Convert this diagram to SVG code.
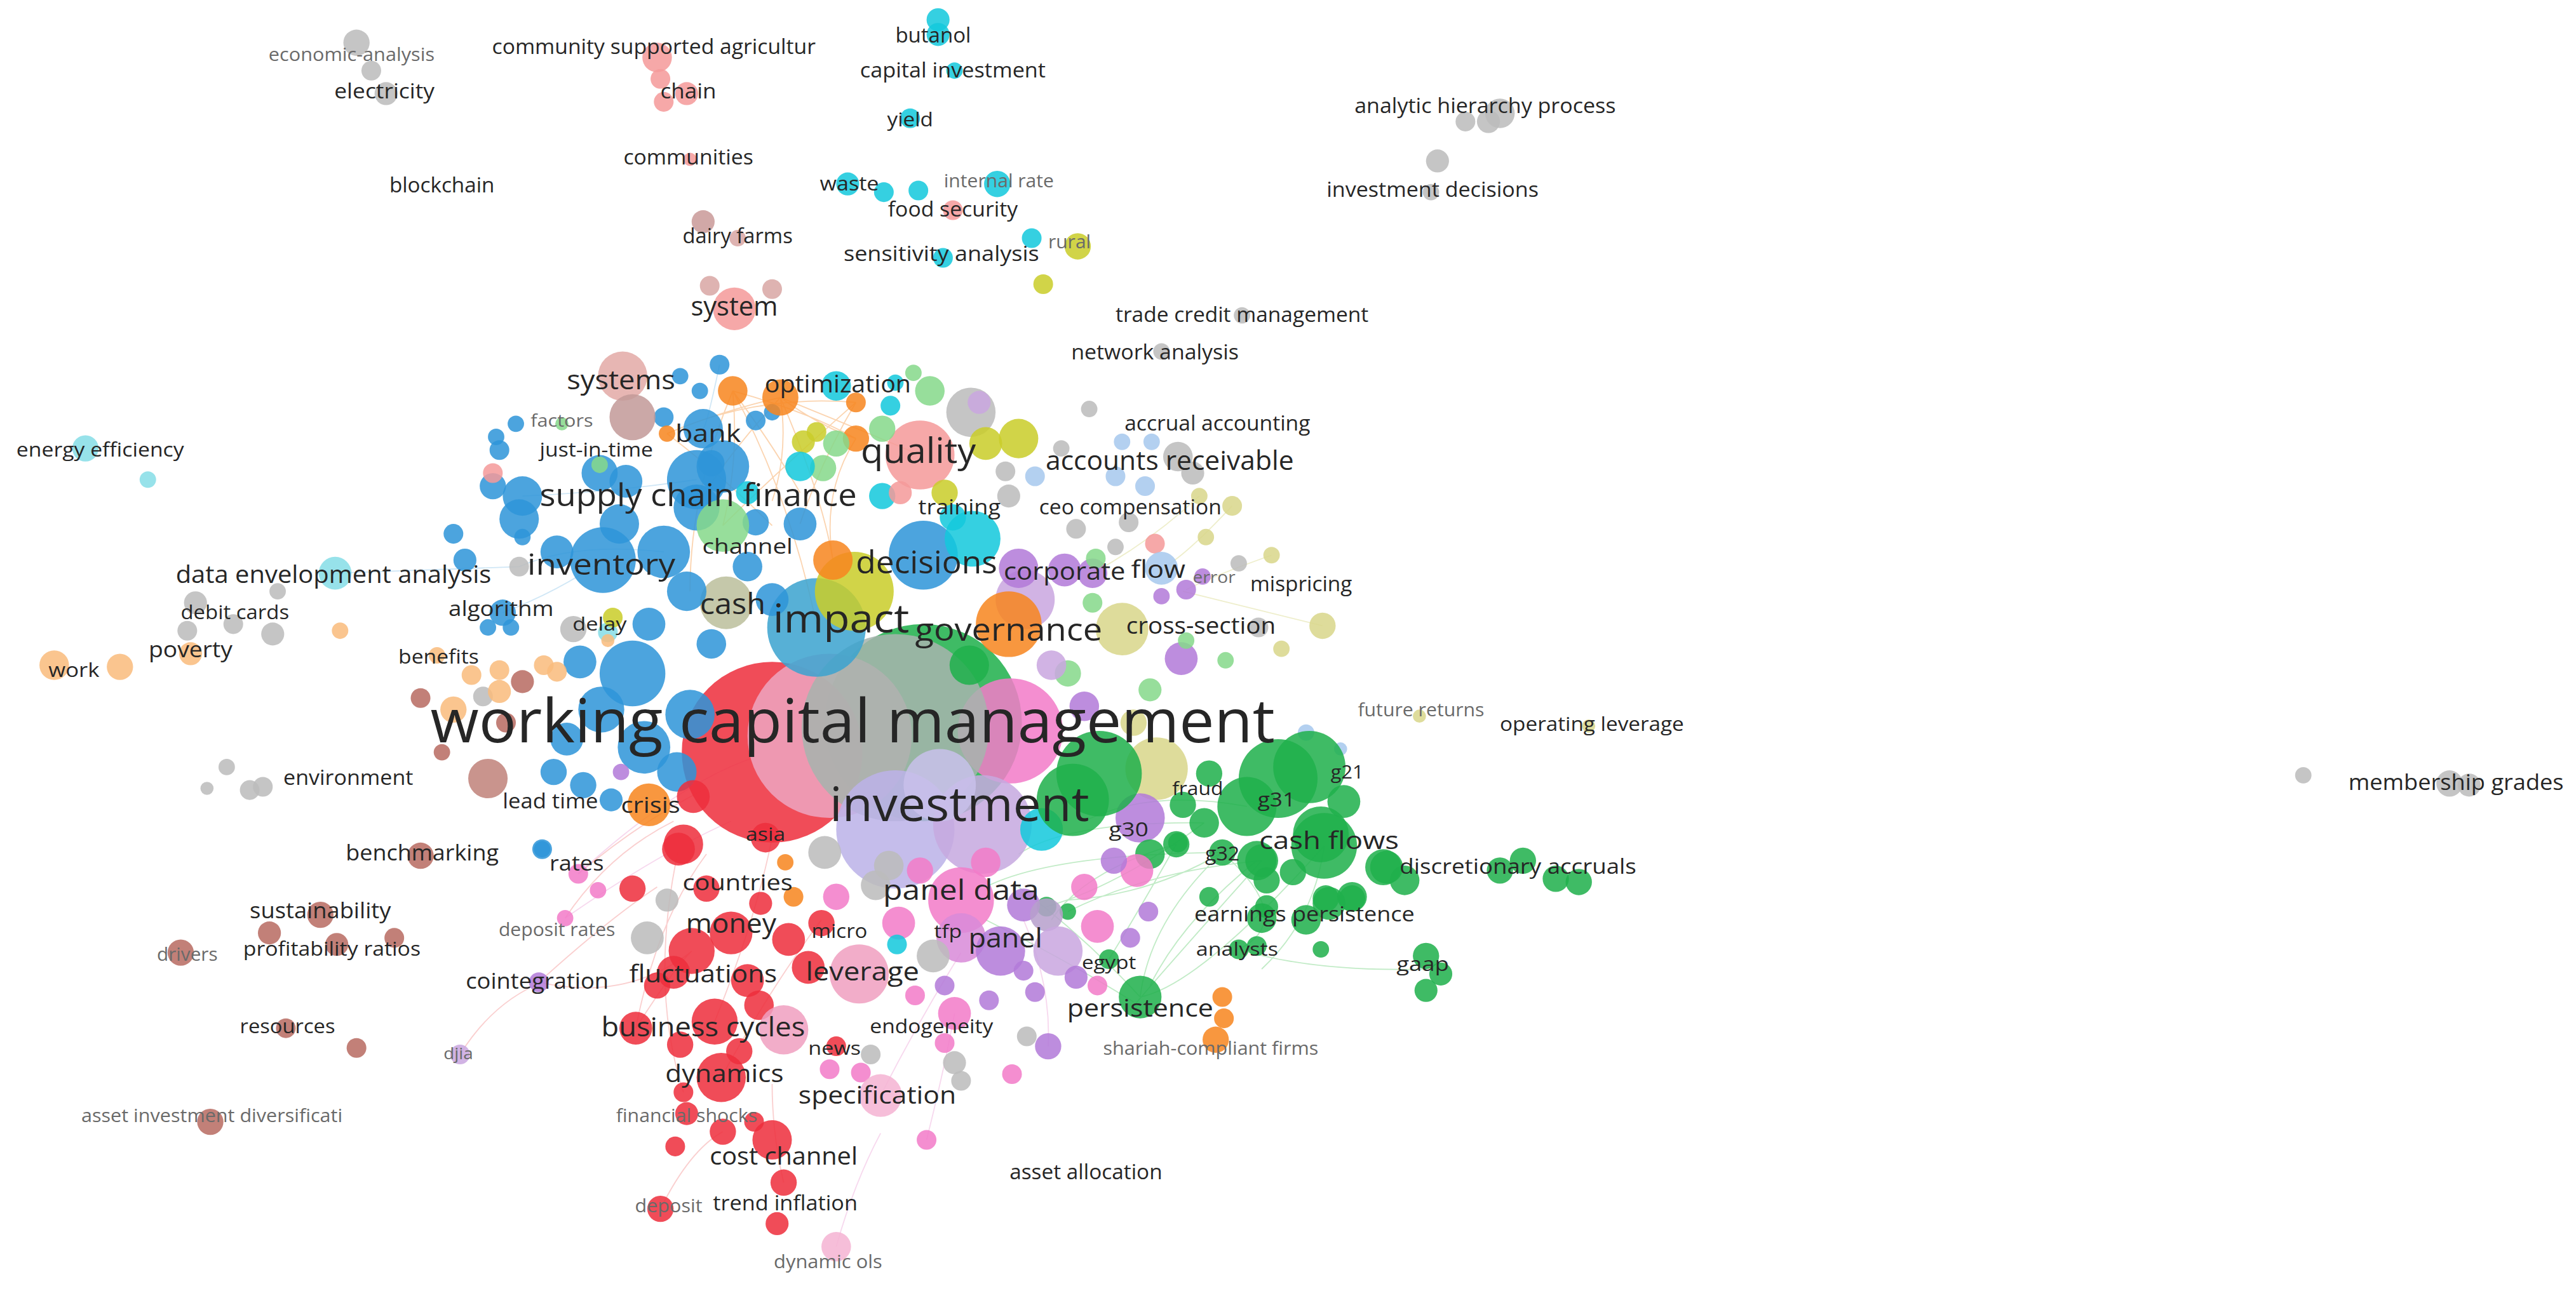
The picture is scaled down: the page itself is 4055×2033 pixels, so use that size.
<svg xmlns="http://www.w3.org/2000/svg" width="4055" height="2033" viewBox="0 0 4055 2033">
<style>
circle{fill-opacity:.86}
.r{fill:#ee2f3c}.g{fill:#1fb04c}.b{fill:#2f95d8}.y{fill:#c9cd2a}.p{fill:#b27ad8}.c{fill:#14c8dc}.o{fill:#f7861f}.br{fill:#b86b62}.pk{fill:#f27cc8}.sl{fill:#f59a9a}.lg{fill:#86d98a}.gy{fill:#bcbcbc}.lb{fill:#a7c8ee}.kh{fill:#d9d68b}.lo{fill:#f9bb7d}.lp{fill:#c9a6e0}.lc{fill:#86dde6}.rs{fill:#eda5c0}.lpk{fill:#f5b3d3}
text{font-family:"Open Sans","Noto Sans","DejaVu Sans",sans-serif;fill:#262626;text-anchor:middle}
.lt{fill:#6a6a6a}
.e{fill:none;stroke-width:.7;stroke-opacity:.55}
.eo{stroke:#f8b070}.eg{stroke:#8edb98}.er{stroke:#f6a8a8}.eb{stroke:#a9d3ee}.ep{stroke:#f0b8e0}.ey{stroke:#e0e0a0}
</style>
<rect width="4055" height="2033" fill="#ffffff"/>
<g transform="scale(2.5861,2.5865)">
<g id="connectors">
<path class="e eo" d="M446,238 Q470,270 487,300 M475,242 Q480,275 470,305 M446,238 Q490,250 521,267 M406,264 Q440,250 475,242 M475,242 Q500,260 521,267 M446,238 Q450,280 440,320 M521,245 Q500,280 487,319 M406,264 Q440,290 470,320 M475,242 Q520,260 560,277 M446,238 Q420,300 420,360 M521,267 Q500,300 507,341 M475,242 Q500,300 507,341 M446,238 Q480,300 497,380 M521,245 Q470,290 440,320 M406,264 Q460,240 521,245 M475,242 Q440,280 424,309"/>
<path class="e eb" d="M204,349 L316,345 M306,373 Q340,360 367,341 M316,345 Q350,330 404,336 M318,302 Q370,300 424,292 M438,222 Q430,260 428,261"/>
<path class="e eg" d="M744,519 Q700,560 694,607 M754,578 Q800,592 868,590 M733,501 Q680,540 637,552 M716,514 Q690,560 675,584 M744,519 Q640,520 600,540 M768,524 Q700,530 650,555 M806,515 Q730,600 694,607 M733,501 Q650,500 620,520 M765,524 Q720,560 700,600 M620,540 Q660,570 694,607 M600,560 Q650,585 690,610 M744,519 Q700,545 650,548 M716,514 Q660,530 640,560 M806,515 Q800,560 768,590 M759,491 Q700,480 660,500 M744,519 Q790,560 754,578 M768,524 Q700,600 688,615"/>
<path class="e er" d="M352,532 Q390,500 430,480 M344,559 Q370,520 410,500 M328,598 Q370,560 400,540 M328,598 Q380,610 420,580 M280,642 Q300,610 330,598 M387,626 Q410,590 421,579 M402,736 Q420,700 440,689 M477,720 Q470,690 470,660 M416,665 Q395,600 413,517 M387,626 Q400,560 430,520 M435,622 Q460,560 470,510 M439,656 Q470,600 500,560"/>
<path class="e ep" d="M509,759 Q520,720 536,690 M536,667 Q560,620 585,580 M564,694 Q575,650 581,617 M352,532 Q420,470 470,458 M344,559 Q400,520 445,500 M638,637 Q640,600 623,560"/>
<path class="e ey" d="M730,302 Q700,330 665,349 M750,308 Q720,340 707,346 M805,381 Q760,370 720,360 M774,338 Q740,350 722,359"/>
</g>
<g id="bubbles">
<g id="cluster-core">
<circle class="g" cx="562" cy="440" r="60"/>
<circle class="pk" cx="615" cy="445" r="32"/>
<circle class="r" cx="470" cy="458" r="55"/>
<circle class="rs" cx="505" cy="448" r="50"/>
<circle cx="545" cy="443" r="57" fill="#a7b3ae"/>
<circle cx="545" cy="505" r="36" fill="#bcb2e8"/>
<circle cx="598" cy="502" r="30" fill="#c6a9e0"/>
<circle cx="572" cy="478" r="22" fill="#c8c0ea"/>
<circle cx="497" cy="382" r="30" fill="#3ba3cf"/>
<circle class="y" cx="520" cy="360" r="24"/>
<circle class="o" cx="507" cy="341" r="12"/>
<circle class="b" cx="562" cy="338" r="21"/>
<circle class="c" cx="592" cy="328" r="17"/>
<circle cx="442" cy="367" r="16" fill="#bcbf9c"/>
<circle class="b" cx="418" cy="360" r="12"/>
<circle class="lp" cx="624" cy="365" r="18"/>
<circle class="o" cx="614" cy="380" r="20"/>
<circle class="p" cx="620" cy="346" r="12"/>
<circle class="p" cx="648" cy="347" r="10"/>
<circle class="p" cx="665" cy="349" r="9"/>
<circle class="kh" cx="683" cy="383" r="16"/>
<circle class="p" cx="719" cy="401" r="10"/>
<circle class="kh" cx="704" cy="468" r="19"/>
<circle class="p" cx="694" cy="498" r="15"/>
<circle class="c" cx="634" cy="505" r="13"/>
<circle class="g" cx="590" cy="405" r="12"/>
<circle class="lg" cx="650" cy="410" r="8"/>
<circle class="p" cx="660" cy="430" r="9"/>
<circle class="lp" cx="640" cy="405" r="9"/>
</g>
<g id="cluster-quality">
<circle class="sl" cx="560" cy="277" r="21"/>
<circle class="gy" cx="591" cy="251" r="15"/>
<circle class="y" cx="600" cy="270" r="10"/>
<circle class="y" cx="620" cy="267" r="12"/>
<circle class="lg" cx="566" cy="238" r="9"/>
<circle class="lg" cx="556" cy="227" r="5"/>
<circle class="lp" cx="596" cy="245" r="7"/>
<circle class="c" cx="542" cy="247" r="6"/>
<circle class="c" cx="537" cy="302" r="8"/>
<circle class="o" cx="521" cy="267" r="8"/>
<circle class="o" cx="521" cy="245" r="6"/>
<circle class="lg" cx="537" cy="261" r="8"/>
<circle class="lg" cx="509" cy="270" r="8"/>
<circle class="lg" cx="501" cy="285" r="8"/>
<circle class="y" cx="489" cy="269" r="7"/>
<circle class="y" cx="497" cy="263" r="6"/>
<circle class="c" cx="509" cy="235" r="9"/>
<circle class="c" cx="487" cy="284" r="9"/>
<circle class="c" cx="545" cy="233" r="5"/>
<circle class="sl" cx="548" cy="300" r="7"/>
<circle class="y" cx="575" cy="300" r="8"/>
<circle class="c" cx="580" cy="315" r="8"/>
<circle class="gy" cx="612" cy="287" r="6"/>
<circle class="gy" cx="614" cy="302" r="7"/>
</g>
<g id="cluster-blue">
<circle class="b" cx="424" cy="292" r="18"/>
<circle class="b" cx="440" cy="284" r="16"/>
<circle class="b" cx="424" cy="309" r="14"/>
<circle class="b" cx="377" cy="319" r="12"/>
<circle class="b" cx="367" cy="341" r="20"/>
<circle class="b" cx="404" cy="336" r="16"/>
<circle class="b" cx="339" cy="336" r="10"/>
<circle class="b" cx="318" cy="302" r="12"/>
<circle class="b" cx="316" cy="316" r="12"/>
<circle class="b" cx="365" cy="288" r="11"/>
<circle class="b" cx="381" cy="293" r="10"/>
<circle class="b" cx="428" cy="261" r="12"/>
<circle class="b" cx="438" cy="222" r="6"/>
<circle class="b" cx="414" cy="229" r="5"/>
<circle class="b" cx="426" cy="238" r="5"/>
<circle class="b" cx="404" cy="254" r="6"/>
<circle class="b" cx="314" cy="258" r="5"/>
<circle class="b" cx="302" cy="266" r="5"/>
<circle class="b" cx="304" cy="274" r="6"/>
<circle class="b" cx="460" cy="256" r="6"/>
<circle class="b" cx="470" cy="251" r="5"/>
<circle class="b" cx="487" cy="319" r="10"/>
<circle class="b" cx="460" cy="318" r="8"/>
<circle class="lg" cx="440" cy="320" r="16"/>
<circle class="b" cx="306" cy="373" r="8"/>
<circle class="b" cx="297" cy="382" r="5"/>
<circle class="b" cx="311" cy="382" r="5"/>
<circle class="b" cx="276" cy="325" r="6"/>
<circle class="b" cx="318" cy="327" r="5"/>
<circle class="b" cx="283" cy="341" r="7"/>
<circle class="b" cx="300" cy="296" r="8"/>
<circle class="b" cx="433" cy="282" r="8"/>
<circle class="b" cx="385" cy="410" r="20"/>
<circle class="b" cx="366" cy="432" r="14"/>
<circle class="b" cx="392" cy="455" r="16"/>
<circle class="b" cx="345" cy="450" r="10"/>
<circle class="b" cx="337" cy="470" r="8"/>
<circle class="b" cx="355" cy="478" r="8"/>
<circle class="b" cx="372" cy="487" r="7"/>
<circle class="b" cx="330" cy="517" r="5"/>
<circle class="b" cx="412" cy="470" r="12"/>
<circle class="b" cx="420" cy="435" r="15"/>
<circle class="b" cx="353" cy="403" r="10"/>
<circle class="b" cx="395" cy="380" r="10"/>
<circle class="b" cx="455" cy="345" r="9"/>
<circle class="b" cx="470" cy="365" r="10"/>
<circle class="b" cx="433" cy="392" r="9"/>
<circle class="lc" cx="370" cy="385" r="6"/>
<circle class="c" cx="455" cy="300" r="7"/>
<circle class="lg" cx="365" cy="283" r="5"/>
<circle class="lg" cx="342" cy="258" r="4"/>
<circle class="sl" cx="300" cy="288" r="6"/>
<circle class="gy" cx="316" cy="345" r="6"/>
<circle class="gy" cx="349" cy="383" r="8"/>
<circle class="y" cx="373" cy="376" r="6"/>
<circle class="lo" cx="370" cy="390" r="4"/>
</g>
<g id="cluster-top">
<circle cx="379" cy="229" r="15" fill="#e3aaa6"/>
<circle cx="385" cy="254" r="14" fill="#c39a98"/>
<circle class="o" cx="446" cy="238" r="9"/>
<circle class="o" cx="475" cy="242" r="11"/>
<circle class="o" cx="406" cy="264" r="5"/>
<circle class="sl" cx="447" cy="188" r="13"/>
<circle cx="432" cy="174" r="6" fill="#d8a6a4"/>
<circle cx="470" cy="176" r="6" fill="#d8a6a4"/>
<circle cx="428" cy="135" r="7" fill="#c99a98"/>
<circle cx="449" cy="145" r="5" fill="#d8a6a4"/>
<circle class="sl" cx="400" cy="35" r="9"/>
<circle class="sl" cx="402" cy="48" r="6"/>
<circle class="sl" cx="404" cy="62" r="6"/>
<circle class="sl" cx="418" cy="57" r="7"/>
<circle class="sl" cx="420" cy="97" r="4"/>
<circle class="sl" cx="580" cy="128" r="6"/>
<circle class="gy" cx="217" cy="26" r="8"/>
<circle class="gy" cx="226" cy="43" r="6"/>
<circle class="gy" cx="235" cy="57" r="7"/>
<circle class="c" cx="571" cy="12" r="7"/>
<circle class="c" cx="571" cy="21" r="7"/>
<circle class="c" cx="581" cy="43" r="5"/>
<circle class="c" cx="554" cy="72" r="6"/>
<circle class="c" cx="516" cy="112" r="7"/>
<circle class="c" cx="538" cy="117" r="6"/>
<circle class="c" cx="559" cy="116" r="6"/>
<circle class="c" cx="607" cy="112" r="8"/>
<circle class="c" cx="574" cy="157" r="6"/>
<circle class="c" cx="628" cy="145" r="6"/>
<circle class="y" cx="656" cy="150" r="8"/>
<circle class="y" cx="635" cy="173" r="6"/>
<circle class="gy" cx="913" cy="69" r="9"/>
<circle class="gy" cx="892" cy="74" r="6"/>
<circle class="gy" cx="906" cy="74" r="7"/>
<circle class="gy" cx="875" cy="98" r="7"/>
<circle class="gy" cx="871" cy="117" r="5"/>
<circle class="gy" cx="756" cy="192" r="5"/>
<circle class="gy" cx="707" cy="214" r="5"/>
<circle class="gy" cx="663" cy="249" r="5"/>
</g>
<g id="cluster-right">
<circle class="lb" cx="683" cy="269" r="5"/>
<circle class="lb" cx="701" cy="269" r="5"/>
<circle class="gy" cx="717" cy="278" r="9"/>
<circle class="gy" cx="726" cy="288" r="7"/>
<circle class="gy" cx="646" cy="273" r="5"/>
<circle class="lb" cx="630" cy="290" r="6"/>
<circle class="lb" cx="679" cy="290" r="6"/>
<circle class="lb" cx="697" cy="296" r="6"/>
<circle class="gy" cx="655" cy="322" r="6"/>
<circle class="gy" cx="687" cy="318" r="6"/>
<circle class="gy" cx="679" cy="333" r="5"/>
<circle class="sl" cx="703" cy="331" r="6"/>
<circle class="kh" cx="734" cy="327" r="5"/>
<circle class="kh" cx="774" cy="338" r="5"/>
<circle class="kh" cx="750" cy="308" r="6"/>
<circle class="kh" cx="730" cy="302" r="5"/>
<circle class="gy" cx="754" cy="343" r="5"/>
<circle class="lb" cx="707" cy="346" r="10"/>
<circle class="p" cx="722" cy="359" r="6"/>
<circle class="p" cx="707" cy="363" r="5"/>
<circle class="p" cx="732" cy="351" r="5"/>
<circle class="lg" cx="667" cy="340" r="6"/>
<circle class="lg" cx="665" cy="367" r="6"/>
<circle class="lg" cx="746" cy="402" r="5"/>
<circle class="lg" cx="722" cy="390" r="5"/>
<circle class="kh" cx="805" cy="381" r="8"/>
<circle class="kh" cx="780" cy="395" r="5"/>
<circle class="gy" cx="766" cy="382" r="6"/>
<circle class="kh" cx="864" cy="436" r="4"/>
<circle class="kh" cx="967" cy="442" r="4"/>
<circle class="lb" cx="795" cy="446" r="5"/>
<circle class="lb" cx="816" cy="456" r="4"/>
<circle class="gy" cx="1402" cy="472" r="5"/>
<circle class="gy" cx="1491" cy="477" r="8"/>
<circle class="gy" cx="1503" cy="478" r="7"/>
<circle class="lg" cx="700" cy="420" r="7"/>
<circle class="kh" cx="690" cy="440" r="8"/>
</g>
<g id="cluster-green">
<circle class="g" cx="669" cy="471" r="26"/>
<circle class="g" cx="653" cy="487" r="22"/>
<circle class="g" cx="778" cy="474" r="24"/>
<circle class="g" cx="797" cy="467" r="22"/>
<circle class="g" cx="759" cy="491" r="18"/>
<circle class="g" cx="804" cy="508" r="17"/>
<circle class="g" cx="765" cy="524" r="12"/>
<circle class="g" cx="842" cy="528" r="11"/>
<circle class="g" cx="855" cy="536" r="9"/>
<circle class="g" cx="736" cy="471" r="8"/>
<circle class="g" cx="733" cy="501" r="9"/>
<circle class="g" cx="717" cy="513" r="6"/>
<circle class="g" cx="771" cy="536" r="8"/>
<circle class="g" cx="787" cy="531" r="8"/>
<circle class="g" cx="807" cy="547" r="8"/>
<circle class="g" cx="823" cy="547" r="8"/>
<circle class="g" cx="771" cy="552" r="7"/>
<circle class="g" cx="736" cy="546" r="6"/>
<circle class="g" cx="765" cy="576" r="6"/>
<circle class="g" cx="804" cy="578" r="5"/>
<circle class="g" cx="868" cy="582" r="8"/>
<circle class="g" cx="877" cy="593" r="7"/>
<circle class="g" cx="868" cy="603" r="7"/>
<circle class="g" cx="694" cy="607" r="13"/>
<circle class="g" cx="637" cy="552" r="6"/>
<circle class="g" cx="650" cy="555" r="5"/>
<circle class="g" cx="675" cy="584" r="6"/>
<circle class="g" cx="744" cy="519" r="8"/>
<circle class="g" cx="716" cy="514" r="8"/>
<circle class="g" cx="768" cy="559" r="9"/>
<circle class="g" cx="795" cy="560" r="9"/>
<circle class="g" cx="809" cy="550" r="10"/>
<circle class="g" cx="823" cy="546" r="9"/>
<circle class="g" cx="844" cy="528" r="10"/>
<circle class="g" cx="913" cy="530" r="8"/>
<circle class="g" cx="927" cy="524" r="8"/>
<circle class="g" cx="947" cy="535" r="8"/>
<circle class="g" cx="961" cy="537" r="8"/>
<circle class="g" cx="806" cy="515" r="20"/>
<circle class="g" cx="768" cy="524" r="10"/>
<circle class="g" cx="754" cy="578" r="6"/>
<circle class="g" cx="818" cy="488" r="10"/>
<circle class="g" cx="720" cy="490" r="8"/>
<circle class="g" cx="700" cy="520" r="9"/>
</g>
<g id="cluster-lower">
<circle class="pk" cx="585" cy="548" r="20"/>
<circle class="pk" cx="547" cy="562" r="10"/>
<circle class="pk" cx="509" cy="546" r="8"/>
<circle class="gy" cx="533" cy="539" r="9"/>
<circle class="p" cx="623" cy="551" r="10"/>
<circle cx="637" cy="557" r="10" fill="#b7a0cc"/>
<circle cx="585" cy="571" r="15" fill="#d98ad8"/>
<circle class="p" cx="609" cy="579" r="15"/>
<circle class="lp" cx="644" cy="579" r="15"/>
<circle class="gy" cx="568" cy="582" r="10"/>
<circle class="pk" cx="668" cy="564" r="10"/>
<circle class="pk" cx="692" cy="530" r="10"/>
<circle class="p" cx="678" cy="524" r="8"/>
<circle class="p" cx="699" cy="555" r="6"/>
<circle class="p" cx="688" cy="571" r="6"/>
<circle class="pk" cx="668" cy="600" r="6"/>
<circle cx="523" cy="593" r="18" fill="#f0a0c0"/>
<circle class="r" cx="492" cy="589" r="10"/>
<circle class="pk" cx="557" cy="606" r="6"/>
<circle class="p" cx="575" cy="600" r="6"/>
<circle class="p" cx="602" cy="609" r="6"/>
<circle class="p" cx="623" cy="591" r="6"/>
<circle class="p" cx="630" cy="604" r="6"/>
<circle class="gy" cx="625" cy="631" r="6"/>
<circle class="p" cx="638" cy="637" r="8"/>
<circle class="pk" cx="581" cy="617" r="10"/>
<circle class="pk" cx="575" cy="635" r="6"/>
<circle class="r" cx="509" cy="637" r="6"/>
<circle class="gy" cx="530" cy="642" r="6"/>
<circle class="pk" cx="505" cy="651" r="6"/>
<circle class="pk" cx="524" cy="653" r="6"/>
<circle class="gy" cx="581" cy="647" r="7"/>
<circle class="gy" cx="585" cy="658" r="6"/>
<circle class="lpk" cx="536" cy="667" r="13"/>
<circle class="pk" cx="616" cy="654" r="6"/>
<circle class="pk" cx="564" cy="694" r="6"/>
<circle class="o" cx="744" cy="607" r="6"/>
<circle class="o" cx="745" cy="620" r="6"/>
<circle class="o" cx="740" cy="633" r="8"/>
<circle class="gy" cx="502" cy="519" r="10"/>
<circle class="gy" cx="541" cy="527" r="9"/>
<circle class="pk" cx="560" cy="530" r="8"/>
<circle class="pk" cx="660" cy="540" r="8"/>
<circle class="c" cx="546" cy="575" r="6"/>
<circle class="p" cx="655" cy="595" r="7"/>
<circle class="pk" cx="600" cy="525" r="9"/>
</g>
<g id="cluster-red">
<circle class="o" cx="395" cy="490" r="13"/>
<circle class="r" cx="416" cy="514" r="12"/>
<circle class="r" cx="422" cy="485" r="10"/>
<circle class="r" cx="413" cy="517" r="10"/>
<circle class="r" cx="385" cy="541" r="8"/>
<circle class="r" cx="430" cy="541" r="8"/>
<circle class="r" cx="445" cy="568" r="13"/>
<circle class="r" cx="421" cy="579" r="14"/>
<circle class="r" cx="463" cy="550" r="7"/>
<circle class="r" cx="387" cy="626" r="10"/>
<circle class="r" cx="435" cy="622" r="14"/>
<circle class="r" cx="414" cy="636" r="8"/>
<circle class="r" cx="439" cy="656" r="15"/>
<circle class="r" cx="416" cy="665" r="6"/>
<circle class="r" cx="418" cy="678" r="7"/>
<circle class="r" cx="440" cy="689" r="8"/>
<circle class="r" cx="459" cy="683" r="6"/>
<circle class="r" cx="470" cy="694" r="12"/>
<circle class="r" cx="411" cy="698" r="6"/>
<circle class="r" cx="477" cy="720" r="8"/>
<circle class="r" cx="402" cy="736" r="8"/>
<circle class="r" cx="473" cy="745" r="7"/>
<circle class="r" cx="400" cy="600" r="8"/>
<circle class="r" cx="410" cy="592" r="10"/>
<circle class="r" cx="455" cy="597" r="10"/>
<circle class="r" cx="462" cy="612" r="9"/>
<circle class="r" cx="450" cy="640" r="8"/>
<circle class="r" cx="500" cy="562" r="8"/>
<circle class="r" cx="480" cy="572" r="10"/>
<circle class="r" cx="466" cy="510" r="9"/>
<circle cx="477" cy="627" r="15" fill="#f0a0c0"/>
<circle class="gy" cx="406" cy="548" r="7"/>
<circle class="gy" cx="394" cy="571" r="10"/>
<circle class="o" cx="483" cy="546" r="6"/>
<circle class="o" cx="478" cy="525" r="5"/>
<circle class="lpk" cx="509" cy="759" r="9"/>
<circle class="p" cx="378" cy="470" r="5"/>
</g>
<g id="cluster-left">
<circle class="br" cx="256" cy="521" r="8"/>
<circle class="b" cx="330" cy="517" r="6"/>
<circle class="pk" cx="352" cy="532" r="6" fill-opacity=".5"/>
<circle class="pk" cx="364" cy="542" r="5" fill-opacity=".5"/>
<circle class="pk" cx="344" cy="559" r="5" fill-opacity=".5"/>
<circle class="br" cx="195" cy="557" r="8"/>
<circle class="br" cx="164" cy="568" r="7"/>
<circle class="br" cx="205" cy="575" r="7"/>
<circle class="br" cx="240" cy="571" r="6"/>
<circle class="br" cx="110" cy="580" r="8"/>
<circle class="br" cx="174" cy="626" r="6"/>
<circle class="br" cx="217" cy="638" r="6"/>
<circle class="lp" cx="280" cy="642" r="6"/>
<circle class="p" cx="328" cy="598" r="6"/>
<circle class="br" cx="128" cy="683" r="8"/>
<circle class="br" cx="318" cy="415" r="7"/>
<circle class="br" cx="256" cy="425" r="6"/>
<circle class="br" cx="269" cy="458" r="5"/>
<circle cx="297" cy="474" r="12" fill="#c0827a"/>
<circle class="br" cx="308" cy="440" r="6"/>
<circle class="gy" cx="294" cy="424" r="6"/>
<circle class="gy" cx="138" cy="467" r="5"/>
<circle class="gy" cx="152" cy="481" r="6"/>
<circle class="gy" cx="160" cy="479" r="6"/>
<circle class="gy" cx="126" cy="480" r="4"/>
<circle class="lo" cx="207" cy="384" r="5"/>
<circle class="lo" cx="116" cy="398" r="7"/>
<circle class="lo" cx="33" cy="405" r="9"/>
<circle class="lo" cx="73" cy="406" r="8"/>
<circle class="lo" cx="266" cy="399" r="5"/>
<circle class="lo" cx="287" cy="411" r="6"/>
<circle class="lo" cx="304" cy="408" r="6"/>
<circle class="lo" cx="304" cy="421" r="7"/>
<circle class="lo" cx="276" cy="432" r="8"/>
<circle class="lo" cx="331" cy="405" r="6"/>
<circle class="lo" cx="339" cy="409" r="6"/>
<circle class="gy" cx="169" cy="360" r="5"/>
<circle class="gy" cx="119" cy="367" r="7"/>
<circle class="gy" cx="114" cy="384" r="6"/>
<circle class="gy" cx="142" cy="380" r="6"/>
<circle class="gy" cx="166" cy="386" r="7"/>
<circle class="lc" cx="204" cy="349" r="10"/>
<circle class="lc" cx="52" cy="273" r="8"/>
<circle class="lc" cx="90" cy="292" r="5"/>
</g>
</g>
<g id="labels">
<g id="node-economic-analysis"><text class="lt" x="214" y="37" font-size="11" textLength="101" lengthAdjust="spacingAndGlyphs">economic-analysis</text></g>
<g id="node-electricity"><text x="234" y="60" font-size="13" textLength="61" lengthAdjust="spacingAndGlyphs">electricity</text></g>
<g id="node-community-supported-agricultur"><text x="398" y="33" font-size="12.5" textLength="197" lengthAdjust="spacingAndGlyphs">community supported agricultur</text></g>
<g id="node-chain"><text x="419" y="60" font-size="13" textLength="34" lengthAdjust="spacingAndGlyphs">chain</text></g>
<g id="node-communities"><text x="419" y="100" font-size="12.5" textLength="79" lengthAdjust="spacingAndGlyphs">communities</text></g>
<g id="node-blockchain"><text x="269" y="117" font-size="13" textLength="64" lengthAdjust="spacingAndGlyphs">blockchain</text></g>
<g id="node-dairy-farms"><text x="449" y="148" font-size="12.5" textLength="67" lengthAdjust="spacingAndGlyphs">dairy farms</text></g>
<g id="node-system"><text x="447" y="192" font-size="16" textLength="53" lengthAdjust="spacingAndGlyphs">system</text></g>
<g id="node-butanol"><text x="568" y="26" font-size="12.5" textLength="46" lengthAdjust="spacingAndGlyphs">butanol</text></g>
<g id="node-capital-investment"><text x="580" y="47" font-size="12.5" textLength="113" lengthAdjust="spacingAndGlyphs">capital investment</text></g>
<g id="node-yield"><text x="554" y="77" font-size="12" textLength="28" lengthAdjust="spacingAndGlyphs">yield</text></g>
<g id="node-waste"><text x="517" y="116" font-size="12" textLength="36" lengthAdjust="spacingAndGlyphs">waste</text></g>
<g id="node-internal-rate"><text class="lt" x="608" y="114" font-size="11" textLength="67" lengthAdjust="spacingAndGlyphs">internal rate</text></g>
<g id="node-food-security"><text x="580" y="132" font-size="12.5" textLength="79" lengthAdjust="spacingAndGlyphs">food security</text></g>
<g id="node-sensitivity-analysis"><text x="573" y="159" font-size="12.5" textLength="119" lengthAdjust="spacingAndGlyphs">sensitivity analysis</text></g>
<g id="node-rural"><text class="lt" x="651" y="151" font-size="11" textLength="26" lengthAdjust="spacingAndGlyphs">rural</text></g>
<g id="node-analytic-hierarchy-process"><text x="904" y="69" font-size="12.5" textLength="159" lengthAdjust="spacingAndGlyphs">analytic hierarchy process</text></g>
<g id="node-investment-decisions"><text x="872" y="120" font-size="12.5" textLength="129" lengthAdjust="spacingAndGlyphs">investment decisions</text></g>
<g id="node-trade-credit-management"><text x="756" y="196" font-size="12.5" textLength="154" lengthAdjust="spacingAndGlyphs">trade credit management</text></g>
<g id="node-network-analysis"><text x="703" y="219" font-size="12.5" textLength="102" lengthAdjust="spacingAndGlyphs">network analysis</text></g>
<g id="node-accrual-accounting"><text x="741" y="262" font-size="12.5" textLength="113" lengthAdjust="spacingAndGlyphs">accrual accounting</text></g>
<g id="node-accounts-receivable"><text x="712" y="286" font-size="16" textLength="151" lengthAdjust="spacingAndGlyphs">accounts receivable</text></g>
<g id="node-ceo-compensation"><text x="688" y="313" font-size="12.5" textLength="111" lengthAdjust="spacingAndGlyphs">ceo compensation</text></g>
<g id="node-corporate"><text x="648" y="353" font-size="15" textLength="74" lengthAdjust="spacingAndGlyphs">corporate</text></g>
<g id="node-flow"><text x="705" y="352" font-size="15" textLength="33" lengthAdjust="spacingAndGlyphs">flow</text></g>
<g id="node-error"><text class="lt" x="739" y="355" font-size="10" textLength="26" lengthAdjust="spacingAndGlyphs">error</text></g>
<g id="node-mispricing"><text x="792" y="360" font-size="12.5" textLength="62" lengthAdjust="spacingAndGlyphs">mispricing</text></g>
<g id="node-cross-section"><text x="731" y="386" font-size="14" textLength="91" lengthAdjust="spacingAndGlyphs">cross-section</text></g>
<g id="node-future-returns"><text class="lt" x="865" y="436" font-size="11" textLength="77" lengthAdjust="spacingAndGlyphs">future returns</text></g>
<g id="node-operating-leverage"><text x="969" y="445" font-size="12" textLength="112" lengthAdjust="spacingAndGlyphs">operating leverage</text></g>
<g id="node-membership-grades"><text x="1495" y="481" font-size="13.5" textLength="131" lengthAdjust="spacingAndGlyphs">membership grades</text></g>
<g id="node-energy-efficiency"><text x="61" y="278" font-size="12" textLength="102" lengthAdjust="spacingAndGlyphs">energy efficiency</text></g>
<g id="node-data-envelopment-analysis"><text x="203" y="355" font-size="15" textLength="192" lengthAdjust="spacingAndGlyphs">data envelopment analysis</text></g>
<g id="node-debit-cards"><text x="143" y="377" font-size="12" textLength="66" lengthAdjust="spacingAndGlyphs">debit cards</text></g>
<g id="node-poverty"><text x="116" y="400" font-size="13.5" textLength="51" lengthAdjust="spacingAndGlyphs">poverty</text></g>
<g id="node-work"><text x="45" y="412" font-size="12" textLength="31" lengthAdjust="spacingAndGlyphs">work</text></g>
<g id="node-algorithm"><text x="305" y="375" font-size="12.5" textLength="64" lengthAdjust="spacingAndGlyphs">algorithm</text></g>
<g id="node-delay"><text x="365" y="384" font-size="11" textLength="33" lengthAdjust="spacingAndGlyphs">delay</text></g>
<g id="node-benefits"><text x="267" y="404" font-size="12" textLength="49" lengthAdjust="spacingAndGlyphs">benefits</text></g>
<g id="node-environment"><text x="212" y="478" font-size="12.5" textLength="79" lengthAdjust="spacingAndGlyphs">environment</text></g>
<g id="node-lead-time"><text x="335" y="492" font-size="12.5" textLength="58" lengthAdjust="spacingAndGlyphs">lead time</text></g>
<g id="node-crisis"><text x="396" y="495" font-size="13.5" textLength="36" lengthAdjust="spacingAndGlyphs">crisis</text></g>
<g id="node-benchmarking"><text x="257" y="524" font-size="13.5" textLength="93" lengthAdjust="spacingAndGlyphs">benchmarking</text></g>
<g id="node-rates"><text x="351" y="530" font-size="12.5" textLength="33" lengthAdjust="spacingAndGlyphs">rates</text></g>
<g id="node-sustainability"><text x="195" y="559" font-size="13.5" textLength="86" lengthAdjust="spacingAndGlyphs">sustainability</text></g>
<g id="node-drivers"><text class="lt" x="114" y="585" font-size="11" textLength="37" lengthAdjust="spacingAndGlyphs">drivers</text></g>
<g id="node-profitability-ratios"><text x="202" y="582" font-size="12" textLength="108" lengthAdjust="spacingAndGlyphs">profitability ratios</text></g>
<g id="node-deposit-rates"><text class="lt" x="339" y="570" font-size="11" textLength="71" lengthAdjust="spacingAndGlyphs">deposit rates</text></g>
<g id="node-cointegration"><text x="327" y="602" font-size="13.5" textLength="87" lengthAdjust="spacingAndGlyphs">cointegration</text></g>
<g id="node-resources"><text x="175" y="629" font-size="12" textLength="58" lengthAdjust="spacingAndGlyphs">resources</text></g>
<g id="node-djia"><text class="lt" x="279" y="645" font-size="10" textLength="18" lengthAdjust="spacingAndGlyphs">djia</text></g>
<g id="node-asset-investment-diversificati"><text class="lt" x="129" y="683" font-size="11.5" textLength="159" lengthAdjust="spacingAndGlyphs">asset investment diversificati</text></g>
<g id="node-countries"><text x="449" y="542" font-size="13.5" textLength="67" lengthAdjust="spacingAndGlyphs">countries</text></g>
<g id="node-money"><text x="445" y="568" font-size="16" textLength="55" lengthAdjust="spacingAndGlyphs">money</text></g>
<g id="node-micro"><text x="511" y="571" font-size="12" textLength="34" lengthAdjust="spacingAndGlyphs">micro</text></g>
<g id="node-fluctuations"><text x="428" y="598" font-size="15" textLength="90" lengthAdjust="spacingAndGlyphs">fluctuations</text></g>
<g id="node-leverage"><text x="525" y="597" font-size="15.5" textLength="69" lengthAdjust="spacingAndGlyphs">leverage</text></g>
<g id="node-business-cycles"><text x="428" y="631" font-size="16" textLength="124" lengthAdjust="spacingAndGlyphs">business cycles</text></g>
<g id="node-news"><text x="508" y="642" font-size="11.5" textLength="32" lengthAdjust="spacingAndGlyphs">news</text></g>
<g id="node-endogeneity"><text x="567" y="629" font-size="12" textLength="75" lengthAdjust="spacingAndGlyphs">endogeneity</text></g>
<g id="node-dynamics"><text x="441" y="659" font-size="15" textLength="72" lengthAdjust="spacingAndGlyphs">dynamics</text></g>
<g id="node-specification"><text x="534" y="672" font-size="15" textLength="96" lengthAdjust="spacingAndGlyphs">specification</text></g>
<g id="node-financial-shocks"><text class="lt" x="418" y="683" font-size="11" textLength="86" lengthAdjust="spacingAndGlyphs">financial shocks</text></g>
<g id="node-cost-channel"><text x="477" y="709" font-size="14.5" textLength="90" lengthAdjust="spacingAndGlyphs">cost channel</text></g>
<g id="node-deposit"><text class="lt" x="407" y="738" font-size="11" textLength="41" lengthAdjust="spacingAndGlyphs">deposit</text></g>
<g id="node-trend-inflation"><text x="478" y="737" font-size="12.5" textLength="88" lengthAdjust="spacingAndGlyphs">trend inflation</text></g>
<g id="node-dynamic-ols"><text class="lt" x="504" y="772" font-size="11" textLength="66" lengthAdjust="spacingAndGlyphs">dynamic ols</text></g>
<g id="node-asset-allocation"><text x="661" y="718" font-size="12.5" textLength="93" lengthAdjust="spacingAndGlyphs">asset allocation</text></g>
<g id="node-panel-data"><text x="585" y="548" font-size="17" textLength="95" lengthAdjust="spacingAndGlyphs">panel data</text></g>
<g id="node-tfp"><text x="577" y="571" font-size="11" textLength="17" lengthAdjust="spacingAndGlyphs">tfp</text></g>
<g id="node-panel"><text x="612" y="577" font-size="16" textLength="45" lengthAdjust="spacingAndGlyphs">panel</text></g>
<g id="node-egypt"><text x="675" y="590" font-size="11.5" textLength="33" lengthAdjust="spacingAndGlyphs">egypt</text></g>
<g id="node-persistence"><text x="694" y="619" font-size="15" textLength="89" lengthAdjust="spacingAndGlyphs">persistence</text></g>
<g id="node-shariah-compliant-firms"><text class="lt" x="737" y="642" font-size="11.5" textLength="131" lengthAdjust="spacingAndGlyphs">shariah-compliant firms</text></g>
<g id="node-analysts"><text x="753" y="582" font-size="11.5" textLength="50" lengthAdjust="spacingAndGlyphs">analysts</text></g>
<g id="node-gaap"><text x="866" y="591" font-size="12" textLength="32" lengthAdjust="spacingAndGlyphs">gaap</text></g>
<g id="node-earnings-persistence"><text x="794" y="561" font-size="12.5" textLength="134" lengthAdjust="spacingAndGlyphs">earnings persistence</text></g>
<g id="node-discretionary-accruals"><text x="924" y="532" font-size="12.5" textLength="144" lengthAdjust="spacingAndGlyphs">discretionary accruals</text></g>
<g id="node-cash-flows"><text x="809" y="517" font-size="15" textLength="85" lengthAdjust="spacingAndGlyphs">cash flows</text></g>
<g id="node-g32"><text x="744" y="524" font-size="12" textLength="21" lengthAdjust="spacingAndGlyphs">g32</text></g>
<g id="node-g30"><text x="687" y="509" font-size="12" textLength="24" lengthAdjust="spacingAndGlyphs">g30</text></g>
<g id="node-g31"><text x="777" y="491" font-size="12" textLength="23" lengthAdjust="spacingAndGlyphs">g31</text></g>
<g id="node-g21"><text x="820" y="474" font-size="11.5" textLength="20" lengthAdjust="spacingAndGlyphs">g21</text></g>
<g id="node-fraud"><text x="729" y="484" font-size="11.5" textLength="31" lengthAdjust="spacingAndGlyphs">fraud</text></g>
<g id="node-asia"><text x="466" y="512" font-size="11" textLength="24" lengthAdjust="spacingAndGlyphs">asia</text></g>
<g id="node-investment"><text x="584" y="500" font-size="29" textLength="158" lengthAdjust="spacingAndGlyphs">investment</text></g>
<g id="node-working-capital-management"><text x="519" y="452" font-size="37" textLength="514" lengthAdjust="spacingAndGlyphs">working capital management</text></g>
<g id="node-impact"><text x="512" y="385" font-size="24" textLength="83" lengthAdjust="spacingAndGlyphs">impact</text></g>
<g id="node-cash"><text x="446" y="374" font-size="18" textLength="40" lengthAdjust="spacingAndGlyphs">cash</text></g>
<g id="node-governance"><text x="614" y="390" font-size="19" textLength="114" lengthAdjust="spacingAndGlyphs">governance</text></g>
<g id="node-decisions"><text x="564" y="349" font-size="19" textLength="86" lengthAdjust="spacingAndGlyphs">decisions</text></g>
<g id="node-inventory"><text x="366" y="350" font-size="18" textLength="90" lengthAdjust="spacingAndGlyphs">inventory</text></g>
<g id="node-channel"><text x="455" y="337" font-size="13" textLength="55" lengthAdjust="spacingAndGlyphs">channel</text></g>
<g id="node-supply-chain-finance"><text x="425" y="308" font-size="19" textLength="193" lengthAdjust="spacingAndGlyphs">supply chain finance</text></g>
<g id="node-quality"><text x="559" y="282" font-size="21" textLength="70" lengthAdjust="spacingAndGlyphs">quality</text></g>
<g id="node-training"><text x="584" y="313" font-size="12.5" textLength="50" lengthAdjust="spacingAndGlyphs">training</text></g>
<g id="node-bank"><text x="431" y="269" font-size="15" textLength="40" lengthAdjust="spacingAndGlyphs">bank</text></g>
<g id="node-just-in-time"><text x="363" y="278" font-size="12" textLength="69" lengthAdjust="spacingAndGlyphs">just-in-time</text></g>
<g id="node-factors"><text class="lt" x="342" y="260" font-size="10.5" textLength="38" lengthAdjust="spacingAndGlyphs">factors</text></g>
<g id="node-systems"><text x="378" y="237" font-size="16" textLength="66" lengthAdjust="spacingAndGlyphs">systems</text></g>
<g id="node-optimization"><text x="510" y="239" font-size="15" textLength="89" lengthAdjust="spacingAndGlyphs">optimization</text></g>
</g>
</g>
</svg>
